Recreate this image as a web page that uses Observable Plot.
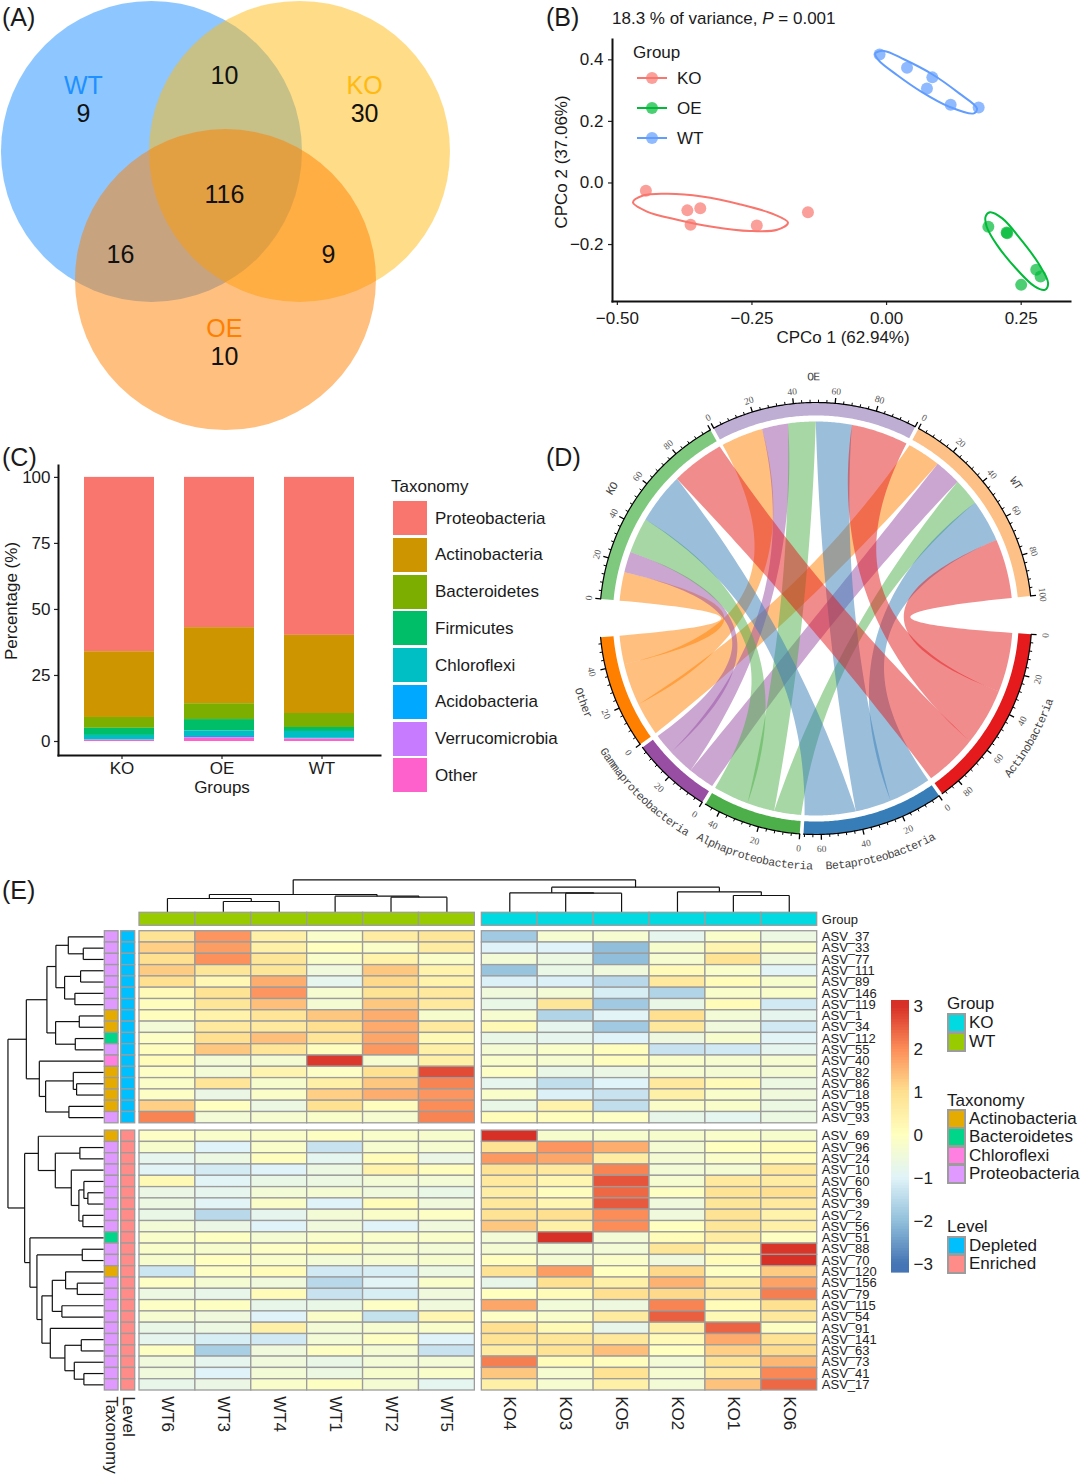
<!DOCTYPE html>
<html><head><meta charset="utf-8">
<script src="https://cdn.jsdelivr.net/npm/d3@7"></script>
<script src="https://cdn.jsdelivr.net/npm/@observablehq/plot@0.6"></script>
<style>
html,body{margin:0;padding:0;background:#fff}
#page{position:relative;width:1080px;height:1475px;overflow:hidden;font-family:"Liberation Sans",Arial,sans-serif;color:#1a1a1a}
#page svg{position:absolute;overflow:visible}
.t{position:absolute;white-space:pre;line-height:1}
.b{position:absolute;box-sizing:border-box}
</style></head><body><div id="page"></div>
<script>
// ---------- Panel A: Venn ----------
const vennSets=[{n:"WT",cx:0,cy:0,c:"#1E90FF"},{n:"KO",cx:1,cy:0,c:"#FFB90F"},{n:"OE",cx:.5,cy:.866,c:"#FF7F00"}];
const vennLabels=[["WT",-.46,-.44,"#1E90FF"],["9",-.46,-.25,"#111"],["KO",1.44,-.44,"#FFB90F"],["30",1.44,-.25,"#111"],
 ["10",.493,-.507,"#111"],["116",.493,.297,"#111"],["16",-.21,.703,"#111"],["9",1.196,.703,"#111"],["OE",.493,1.203,"#FF7F00"],["10",.493,1.392,"#111"]];
// ---------- Panel B: PCoA ----------
const pcoaKO=[[-.447,-.025],[-.370,-.089],[-.346,-.082],[-.364,-.136],[-.241,-.138],[-.146,-.095]];
const pcoaOE=[[.189,-.142],[.223,-.161],[.224,-.163],[.278,-.282],[.286,-.304],[.250,-.331]];
const pcoaWT=[[-.013,.417],[.038,.374],[.085,.343],[.075,.307],[.119,.254],[.171,.245]];
const ellipseKO=[[-.471,-.063],[-.451,-.040],[-.406,-.035],[-.343,-.044],[-.273,-.069],[-.209,-.102],[-.183,-.129],[-.203,-.152],[-.254,-.156],[-.324,-.142],[-.387,-.120],[-.445,-.093]];
const ellipseOE=[[.184,-.109],[.192,-.095],[.215,-.115],[.250,-.185],[.282,-.261],[.300,-.325],[.294,-.347],[.275,-.336],[.240,-.277],[.205,-.201],[.186,-.142]];
const ellipseWT=[[-.021,.421],[-.005,.429],[.033,.401],[.084,.354],[.135,.291],[.168,.242],[.162,.226],[.116,.248],[.065,.296],[.020,.350],[-.015,.399]];
const groupColors={KO:"#F8766D",OE:"#00BA38",WT:"#619CFF"};
// ---------- Panel C: stacked bars ----------
const barGroups=["KO","OE","WT"];
const taxa=["Proteobacteria","Actinobacteria","Bacteroidetes","Firmicutes","Chloroflexi","Acidobacteria","Verrucomicrobia","Other"];
const taxaColors=["#F8766D","#CD9600","#7CAE00","#00BE67","#00BFC4","#00A9FF","#C77CFF","#FF61CC"];
const proteobacteria=[66,56.9,59.8],actinobacteria=[24.9,28.8,29.6],bacteroidetes=[4.1,6,5.3],firmicutes=[2.7,4.3,1.5],
 chloroflexi=[1.7,2.1,2.6],acidobacteria=[.1,.4,.2],verrucomicrobia=[0,.1,.1],otherTaxa=[.5,1.4,.9];
const barSeries=[proteobacteria,actinobacteria,bacteroidetes,firmicutes,chloroflexi,acidobacteria,verrucomicrobia,otherTaxa];
// ---------- Panel D: chord ----------
const chordGroups=["KO","OE","WT"];
const chordGroupColors=["#7FC97F","#BEAED4","#FDC086"];
const chordTaxa=["Actinobacteria","Betaproteobacteria","Alphaproteobacteria","Gammaproteobacteria","Other"];
const chordTaxaColors=["#E41A1C","#377EB8","#4DAF4A","#984EA3","#FF7F00"];
const chordKO=[28.1,27,18.8,11,15.1],chordOE=[30.3,19,14.5,13.9,22.3],chordWT=[31.5,22.5,14.3,14,17.7];
const chordLabelAngles={KO:302.6,OE:-.5,WT:56,Actinobacteria:119.2,Betaproteobacteria:164.5,Alphaproteobacteria:194.6,Gammaproteobacteria:224.6,Other:250};
// ---------- Panel E: heatmap ----------
const heatColumns=["WT6","WT3","WT4","WT1","WT2","WT5","KO4","KO3","KO5","KO2","KO1","KO6"];
const heatRowsTop=["ASV_37","ASV_33","ASV_77","ASV_111","ASV_89","ASV_146","ASV_119","ASV_1","ASV_34","ASV_112","ASV_55","ASV_40","ASV_82","ASV_86","ASV_18","ASV_95","ASV_93"];
const heatRowsBottom=["ASV_69","ASV_96","ASV_24","ASV_10","ASV_60","ASV_6","ASV_39","ASV_2","ASV_56","ASV_51","ASV_88","ASV_70","ASV_120","ASV_156","ASV_79","ASV_115","ASV_54","ASV_91","ASV_141","ASV_63","ASV_73","ASV_41","ASV_17"];
const heatTop=[
[.9,1.9,.5,-.2,.6,.8,-1.8,-.3,-.3,-.8,-.2,-.6],
[1.2,1.8,.5,0,-.15,.6,-1,-1,-2,-.25,.35,-.2],
[1,1.95,.8,-.2,.4,-.15,-.4,-.6,-2,-.3,.9,-.5],
[1.25,.8,.8,-.5,1.3,.4,-1.9,-.7,-.5,.15,-.2,-.95],
[1,.25,1.6,-.8,1.1,.4,-1.05,-1.05,-1.5,.7,.1,-.25],
[.15,.9,1.9,-.3,.9,.7,-.5,-.4,-1.1,-1.6,-.2,-.2],
[.05,.8,1.4,-.35,1.3,.7,-.7,.8,-1.8,-.7,.1,-1.2],
[.05,.4,.85,1.3,1.6,-.25,-.3,-1.6,-.95,1,-.4,-.8],
[-.4,.7,.7,1,1.65,.7,.2,-.8,-1.8,.75,-.5,-1.2],
[-.1,1,1.4,.85,1.7,.2,-.7,-.8,-1,-.55,-.25,-.95],
[.05,1.3,.85,.05,1.85,.5,-.35,-.2,.05,-1.3,-1.2,-.8],
[.1,-.4,-.35,2.9,-.3,.5,-.2,-.3,.05,-.2,-.3,-.3],
[-.1,-.4,.35,-.1,.95,2.7,-.1,-.7,-.65,-.3,-.35,-.35],
[-.15,.85,-.25,.5,1.3,2.1,-.8,-1.4,-1,.7,.15,-.6],
[-.1,-.65,-.15,1.2,1.6,1.9,-.2,-1.05,-1.3,.5,-.2,-.5],
[1.2,0,-.6,.95,.05,2,-.7,.4,-1.4,-.15,-.2,-.6],
[2.1,-.4,-.3,-.2,-.3,2.1,.1,.05,-.1,-.75,-.85,-.6]];
const heatBottom=[
[-.1,-.2,-.15,-.05,-.2,-.25,3,-.25,-.25,-.25,-.2,-.25],
[-.25,-1,-.2,-1.3,-.3,-.3,.9,1.9,1.6,-.35,0,.1],
[-.8,-.6,.05,-.85,.1,-.65,1.85,1.7,.6,-.35,-.15,.1],
[-.95,-1.15,-1,-.6,.4,.05,.9,.7,2.1,-.4,-.35,.75],
[.2,-.95,-.7,-.6,-.4,-.4,.7,.3,2.6,-.3,.7,.6],
[-.65,-.8,-.4,-.35,-.5,-.7,.55,.05,2.4,-.05,.9,1],
[-.6,-.95,-.15,-1,.1,-.5,.75,.3,2.55,-.5,.8,.7],
[-.7,-1.5,-.8,-.4,-.15,-.1,.9,1,2,-.5,.9,.4],
[-.4,-.65,-1,-.5,-1,-.5,1.3,.5,2,0,.8,.5],
[-.2,-.05,-.35,-.2,-.2,-.2,-.4,3,-.4,.1,.6,-.05],
[-.2,-.25,-.1,.05,-.3,-.4,-.35,-.45,-.4,.8,.2,2.95],
[-.25,0,-.2,-.4,-.3,-.25,.03,-.35,-.15,-.5,.1,3],
[-1.25,-.1,.1,-1.2,-1.1,-.6,.9,1.8,0,1.1,-.05,1.25],
[-.1,-.35,-.5,-1.5,-.95,-.2,-.75,.95,.5,1.55,.6,1.75],
[-.6,-.75,.1,-1.3,-1.1,-.5,0,.1,1,1.1,.7,2.15],
[-.1,-.05,-.75,-.7,-.1,-.5,1.7,-.45,-.55,2.1,.1,.95],
[-.3,-.5,-1,-.15,-1.35,.3,-.1,-.2,.65,2.5,.2,.75],
[-.7,-.6,.5,-.4,-.3,-.2,1,.2,-.75,.5,2.45,-.05],
[-.8,-1.1,-1.2,-.4,-.05,-1,.9,.8,.75,.15,1.65,.9],
[-.05,-1.7,-.5,-.05,-.35,-1.3,.6,.9,1.4,0,1.2,1.05],
[-.5,-.8,-.5,-.7,-.4,-.4,2.15,.1,.05,-.4,.9,1.5],
[-.5,-1,-.4,-.6,-.25,-.2,1.3,-.3,.9,-.3,.7,2.05],
[-.75,-.65,-.2,-.05,-.35,-.85,.5,-.3,.5,-.4,1.35,2.4]];
const rowTaxonomy="PPPPPPPAABPCAAAAP"+"APPPPPPPPBPPAPPPPPPPPPP";
const annoColors={A:"#E6AB00",B:"#00D68A",C:"#FF80E0",P:"#DF99FF"};
const levelColors={Depleted:"#00BFFF",Enriched:"#FF8C88"};
const heatGroupColors={KO:"#00DAE0",WT:"#99CC00"};
const heatDomain=[-3,-2,-1,0,1,2,3],heatRange=["#4575B4","#91BFDB","#E0F3F8","#FFFFBF","#FEE090","#FC8D59","#D73027"];
// merge trees: [merge height, child, child]; a number is a leaf index
const rowTreeTop=[77.3,[56.7,[47.7,[35.3,0,[20.3,1,2]],[39,[23,3,4],[28.7,5,6]]],[48,[24.3,7,8],[28.3,9,10]]],
 [64.3,11,[58,[30.3,12,[27,13,14]],[34.7,15,16]]]];
const rowTreeBottom=[79,[65.3,17,[48.3,[23.7,18,19],[32.3,20,[24.7,[19.7,21,[15.7,22,23]],[20.7,24,25]]]]],
 [73.7,26,[66.7,[21.3,27,28],[61.7,[51.3,[38,29,[26.3,30,31]],[41.7,32,33]],[53.3,34,[38.7,[22.3,35,36],[29.3,37,[19.7,38,39]]]]]]]];
const rowTree=[95.7,rowTreeTop,rowTreeBottom];
const colTree=[32,[17.3,[13.3,0,[10.3,1,2]],[15.6,3,[14.6,4,5]]],[24.6,[19,6,[18.6,7,8]],[20,9,[16.3,10,11]]]];

// ---------- helpers ----------
const page=document.getElementById("page");
const FONT='"Liberation Sans",Arial,sans-serif';
function place(svg,left,top){svg.style.left=left+"px";svg.style.top=top+"px";page.appendChild(svg);}
function T(s,x,y,o={}){const d=document.createElement("div");d.className="t";d.style.left=x+"px";d.style.top=y+"px";
 d.style.fontSize=(o.size||17)+"px";if(o.color)d.style.color=o.color;
 const ax=o.anchor==="middle"?"-50%":o.anchor==="end"?"-100%":"0";
 d.style.transform=`translate(${ax},-50%)`+(o.rot?` rotate(${o.rot}deg)`:"");
 if(o.html)d.innerHTML=s;else d.textContent=s;page.appendChild(d);}
function B(x,y,w,h,c,o={}){const d=document.createElement("div");d.className="b";Object.assign(d.style,{left:x+"px",top:y+"px",width:w+"px",height:h+"px",background:c});
 if(o.border)d.style.border=o.border;if(o.radius)d.style.borderRadius=o.radius;if(o.opacity)d.style.opacity=o.opacity;page.appendChild(d);}
const minus=f=>d=>f(d).replace("-","\u2212");
const base={style:{background:"transparent",fontFamily:FONT,overflow:"visible",color:"#1a1a1a"}};

// ---------- A ----------
place(Plot.plot({...base,width:452,height:432,margin:0,
 x:{domain:[-1.02,2.034],range:[0,452],axis:null},y:{domain:[-1.02,1.899],range:[0,432],axis:null},
 marks:[
  Plot.dot(vennSets,{x:"cx",y:"cy",r:150.5,fill:d=>d.c,fillOpacity:.5,stroke:"none"}),
  Plot.text(vennLabels,{x:d=>d[1],y:d=>d[2],text:d=>d[0],fill:d=>d[3],fontSize:25,lineAnchor:"middle"})
 ],color:{type:"identity"}}),0,0);

// ---------- B ----------
const tag=(rows,g)=>rows.map(([x,y])=>({x,y,g}));
const pcoaPts=[...tag(pcoaKO,"KO"),...tag(pcoaOE,"OE"),...tag(pcoaWT,"WT")];
const ellipsePts=[...tag(ellipseKO,"KO"),...tag(ellipseOE,"OE"),...tag(ellipseWT,"WT")];
place(Plot.plot({...base,width:540,height:350,marginLeft:72,marginRight:10,marginTop:39,marginBottom:49,
 x:{domain:[-.509,.3416]},y:{domain:[-.385,.466]},
 color:{domain:Object.keys(groupColors),range:Object.values(groupColors)},
 marks:[
  Plot.axisX({ticks:[-.5,-.25,0,.25],tickFormat:minus(d3.format(".2f")),tickSize:4,tickPadding:6,fontSize:17,label:null,stroke:"#222",strokeWidth:1.2}),
  Plot.axisY({ticks:[-.2,0,.2,.4],tickFormat:minus(d3.format(".1f")),tickSize:4,tickPadding:5,fontSize:17,label:null,stroke:"#222",strokeWidth:1.2}),
  Plot.frame({anchor:"left",stroke:"#111",strokeWidth:2}),Plot.frame({anchor:"bottom",stroke:"#111",strokeWidth:2}),
  Plot.line(ellipsePts,{x:"x",y:"y",z:"g",stroke:"g",strokeWidth:2,curve:"catmull-rom-closed"}),
  Plot.dot(pcoaPts,{x:"x",y:"y",r:6,fill:"g",fillOpacity:.7,stroke:"none"})
 ]}),540,0);
T("(B)",546,17,{size:25});
T('18.3 % of variance, <i>P</i> = 0.001',612,18,{html:true});
T("CPCo 2 (37.06%)",561,162,{anchor:"middle",rot:-90});
T("CPCo 1 (62.94%)",843,337,{anchor:"middle"});
T("Group",633,52);
Object.entries(groupColors).forEach(([g,c],i)=>{const y=78+30*i;
 B(637,y-1,30,2,c);B(646,y-6,12,12,c,{radius:"50%",opacity:.7});T(g,677,y);});

// ---------- C ----------
const barRows=taxa.flatMap((t,i)=>barGroups.map((g,j)=>({g,t,v:barSeries[i][j]})));
place(Plot.plot({...base,width:385,height:370,marginLeft:58,marginRight:5,marginTop:25,marginBottom:55,
 x:{type:"band",domain:barGroups,range:[83,354.3],paddingInner:.3,paddingOuter:0},
 y:{domain:[104.5,-5.3],range:[25,315]},
 color:{domain:taxa,range:taxaColors},
 marks:[
  Plot.barY(barRows,{x:"g",y:"v",fill:"t",order:[...taxa].reverse()}),
  Plot.axisY({ticks:[0,25,50,75,100],tickSize:4,tickPadding:4,fontSize:17,label:null,stroke:"#222",strokeWidth:1.2}),
  Plot.axisX({tickSize:4,tickPadding:2,fontSize:17,label:null,dx:2.5,stroke:"#222",strokeWidth:1.2}),
  Plot.frame({anchor:"left",stroke:"#111",strokeWidth:2}),Plot.frame({anchor:"bottom",stroke:"#111",strokeWidth:2})
 ]}),0,440);
T("(C)",2,457,{size:25});
T("Percentage (%)",11,601,{anchor:"middle",rot:-90});
T("Groups",222,787,{anchor:"middle"});
T("Taxonomy",391,486);
taxa.forEach((t,i)=>{const y=518+36.75*i;B(393,y-17,34,34,taxaColors[i]);T(t,435,y-.5);});

// ---------- D ----------
const pt=(deg,r)=>{const a=deg*Math.PI/180;return {x:r*Math.sin(a),y:-r*Math.cos(a)};};
const DEG=.556,GAP=1,BIG=10.2,R_IN=.94,R_RIB=.912,R_TICK=1.055;
const chordMatrix=[chordKO,chordOE,chordWT];
const sum=a=>a.reduce((p,c)=>p+c,0);
const sectors=[];let cur=275.2;
chordGroups.forEach((n,i)=>{const u=sum(chordMatrix[i]);sectors.push({n,units:u,a0:cur,a1:cur+u*DEG,c:chordGroupColors[i],top:true,showEnd:n==="WT"});cur+=u*DEG+(i<2?GAP:BIG);});
chordTaxa.forEach((n,j)=>{const u=sum(chordMatrix.map(r=>r[j]));sectors.push({n,units:u,a0:cur,a1:cur+u*DEG,c:chordTaxaColors[j],top:false});cur+=u*DEG+GAP;});
const ribbonPts=[],trackPts=[],arcPts=[],tickRows=[],tickLabels=[],charRows=[];
const arc=(a,b,r)=>{const n=Math.max(2,Math.ceil(Math.abs(b-a))*2),o=[];for(let i=0;i<=n;i++)o.push(pt(a+(b-a)*i/n,r));return o;};
const apexOf=d3.scaleLinear().domain([0,45,85,110,130,151,168,180]).range([.49,.447,.368,.307,.25,.19,.067,0]);
const bez=(a,b,r)=>{let d=((b-a)%360+360)%360,m=a+d/2,minor=d;if(d>180){minor=360-d;m+=180;}
 const ch=Math.cos(minor/2*Math.PI/180),apex=r*apexOf(minor),c=pt(m,2*apex-r*ch),p=pt(a,r),q=pt(b,r),o=[];
 for(let i=1;i<50;i++){const t=i/50,u=1-t;o.push({x:u*u*p.x+2*u*t*c.x+t*t*q.x,y:u*u*p.y+2*u*t*c.y+t*t*q.y});}return o;};
const srcCur=sectors.slice(0,3).map(s=>s.a0),dstCur=sectors.slice(3).map(s=>s.a0);
const links=[];
[4,3,2,1,0].forEach(j=>chordGroups.forEach((g,i)=>{const v=chordMatrix[i][j];links.push({i,j,a0:srcCur[i],a1:srcCur[i]+v*DEG});srcCur[i]+=v*DEG;}));
[2,1,0].forEach(i=>chordTaxa.forEach((t,j)=>{const v=chordMatrix[i][j],l=links.find(k=>k.i===i&&k.j===j);l.b0=dstCur[j];l.b1=dstCur[j]+v*DEG;dstCur[j]+=v*DEG;}));
links.forEach((l,id)=>{[...arc(l.a0,l.a1,R_RIB),...bez(l.a1,l.b0,R_RIB),...arc(l.b0,l.b1,R_RIB),...bez(l.b1,l.a0,R_RIB)]
 .forEach(p=>ribbonPts.push({...p,id,c:chordTaxaColors[l.j]}));});
const norm=a=>{a=((a%360)+360)%360;return a>180?a-360:a;};
sectors.forEach(s=>{
 [...arc(s.a0,s.a1,1),...arc(s.a1,s.a0,R_IN)].forEach(p=>trackPts.push({...p,n:s.n,c:s.c}));
 arc(s.a0,s.a1,1).forEach(p=>arcPts.push({...p,n:s.n}));
 for(let v=0;v<=s.units+.01;v+=4){const a=s.a0+v*DEG,major=v%20===0,p=pt(a,1),q=pt(a,major?1.025:1.013);
  tickRows.push({x1:p.x,y1:p.y,x2:q.x,y2:q.y,w:major?1.3:1});
  if(major&&(v<100||s.showEnd)){const l=pt(a,R_TICK+(s.top?0:.012));tickLabels.push({...l,v,rot:s.top?norm(a):norm(a-180)});}}
 const mid=chordLabelAngles[s.n],chars=[...s.n],step=1.46,r=s.top?1.12:(s.n==="Gammaproteobacteria"?1.155:1.145),dir=s.top?1:-1;
 chars.forEach((ch,i)=>{const a=mid+dir*(i-(chars.length-1)/2)*step;charRows.push({...pt(a,r),ch,rot:s.top?norm(a):norm(a-180)});});
});
const SERIF='"Liberation Serif","DejaVu Serif",serif',MONO='"Liberation Mono","DejaVu Sans Mono",monospace';
place(Plot.plot({...base,width:540,height:520,margin:0,
 x:{domain:[-1.2745,1.2255],range:[0,540],axis:null},y:{domain:[-1.1944,1.213],range:[0,520],axis:null},color:{type:"identity"},
 marks:[
  Plot.line(ribbonPts,{x:"x",y:"y",z:"id",fill:"c",fillOpacity:.5,stroke:"none"}),
  Plot.line(trackPts,{x:"x",y:"y",z:"n",fill:"c",stroke:"none"}),
  Plot.line(arcPts,{x:"x",y:"y",z:"n",stroke:"#000",strokeWidth:1.2}),
  Plot.link(tickRows,{x1:"x1",y1:"y1",x2:"x2",y2:"y2",stroke:"#000",strokeWidth:"w",bend:false}),
  Plot.text(tickLabels,{x:"x",y:"y",text:"v",rotate:"rot",fontSize:9.5,fontFamily:SERIF,fill:"#555",lineAnchor:"middle"}),
  Plot.text(charRows,{x:"x",y:"y",text:"ch",rotate:"rot",fontSize:11.5,fontFamily:MONO,fill:"#444",lineAnchor:"middle"})
 ]}),540,360);
T("(D)",546,457,{size:25});

// ---------- E ----------
const COLGAP=.125,ROWGAP=.646,X0=-.643,XK=1/55.95,Y0=-1.717,YK=1/11.3;
const colX=i=>i<6?i:i+COLGAP;
const rowY=i=>i<17?i:i+ROWGAP;
const rowNames=[...heatRowsTop,...heatRowsBottom],rowVals=[...heatTop,...heatBottom];
const cells=rowVals.flatMap((r,i)=>r.map((v,j)=>({x1:colX(j),x2:colX(j)+1,y1:rowY(i),y2:rowY(i)+1,v})));
const groupBar=heatColumns.map((c,j)=>({x1:colX(j),x2:colX(j)+1,c:c.startsWith("WT")?heatGroupColors.WT:heatGroupColors.KO}));
const annoTax=rowNames.map((n,i)=>({y1:rowY(i),y2:rowY(i)+1,c:annoColors[rowTaxonomy[i]]}));
const annoLev=rowNames.map((n,i)=>({y1:rowY(i),y2:rowY(i)+1,c:i<17?levelColors.Depleted:levelColors.Enriched}));
function treeSegs(node,leafPos,out){
 if(typeof node==="number")return {h:0,p:leafPos(node)};
 const a=treeSegs(node[1],leafPos,out),b=treeSegs(node[2],leafPos,out),h=node[0];
 out.push({h1:h,p1:a.p,h2:a.h,p2:a.p},{h1:h,p1:b.p,h2:b.h,p2:b.p},{h1:h,p1:a.p,h2:h,p2:b.p});
 return {h,p:(a.p+b.p)/2};}
const rowSegs=[],colSegs=[];
treeSegs(rowTree,i=>rowY(i)+.5,rowSegs);treeSegs(colTree,j=>colX(j)+.5,colSegs);
const GREY="#9c9c9c",SW=1.3;
place(Plot.plot({...base,width:1080,height:600,marginLeft:139,marginRight:263.3,marginTop:55.7,marginBottom:85,
 x:{domain:[0,12+COLGAP],range:[139,816.7],axis:null},y:{domain:[0,40+ROWGAP],range:[55.7,515],axis:null},
 color:{type:"linear",domain:heatDomain,range:heatRange,interpolate:"rgb"},
 marks:[
  Plot.rect(cells,{x1:"x1",x2:"x2",y1:"y1",y2:"y2",fill:"v",stroke:GREY,strokeWidth:SW}),
  Plot.rect(groupBar,{x1:"x1",x2:"x2",y1:()=>-1.628,y2:()=>-.478,fill:{value:"c",scale:null},stroke:GREY,strokeWidth:SW}),
  Plot.rect(annoTax,{x1:()=>-.62,x2:()=>-.375,y1:"y1",y2:"y2",fill:{value:"c",scale:null},stroke:GREY,strokeWidth:SW}),
  Plot.rect(annoLev,{x1:()=>-.327,x2:()=>-.077,y1:"y1",y2:"y2",fill:{value:"c",scale:null},stroke:GREY,strokeWidth:SW}),
  Plot.link(rowSegs,{x1:d=>X0-d.h1*XK,y1:"p1",x2:d=>X0-d.h2*XK,y2:"p2",stroke:"#111",strokeWidth:1.2,bend:false}),
  Plot.link(colSegs,{x1:"p1",y1:d=>Y0-d.h1*YK,x2:"p2",y2:d=>Y0-d.h2*YK,stroke:"#111",strokeWidth:1.2,bend:false}),
  Plot.text(rowNames,{x:()=>12.207,y:(d,i)=>rowY(i)+.5,text:d=>d,textAnchor:"start",fontSize:13,lineAnchor:"middle",fill:"#222"}),
  Plot.text(heatColumns,{x:(d,j)=>colX(j)+.5,y:()=>40.646+.5,text:d=>d,rotate:90,textAnchor:"start",lineAnchor:"middle",fontSize:17,fill:"#222"}),
  Plot.text(["Taxonomy"],{x:()=>-.4975,y:()=>40.646+.5,text:d=>d,rotate:90,textAnchor:"start",lineAnchor:"middle",fontSize:17,fill:"#222"}),
  Plot.text(["Level"],{x:()=>-.202,y:()=>40.646+.5,text:d=>d,rotate:90,textAnchor:"start",lineAnchor:"middle",fontSize:17,fill:"#222"}),
  Plot.text(["Group"],{x:()=>12.207,y:()=>-1.05,text:d=>d,textAnchor:"start",fontSize:13,lineAnchor:"middle",fill:"#222"})
 ]}),0,875);
T("(E)",2,890,{size:25});
// colour bar
const barSteps=d3.range(-3.2,3.14,.0634);
place(Plot.plot({...base,width:60,height:295,marginLeft:11,marginRight:31,marginTop:10,marginBottom:10,
 y:{domain:[3,-3],range:[16,274]},
 color:{type:"linear",domain:heatDomain,range:heatRange,interpolate:"rgb",clamp:true},
 marks:[
  Plot.rect(barSteps,{y1:d=>d,y2:d=>Math.min(d+.09,3.14),fill:d=>d+.0317}),
  Plot.axisY({anchor:"right",ticks:[-3,-2,-1,0,1,2,3],tickFormat:minus(d3.format("d")),tickSize:0,tickPadding:4,fontSize:17,label:null,fill:"#222"})
 ]}),880,990);
// side legends
const swatchBorder="2px solid "+GREY;
T("Group",947,1003);
Object.entries(heatGroupColors).forEach(([n,c],i)=>{const y=1013+19*i;B(946.5,y,19.5,20,c,{border:swatchBorder});T(n,969,y+8.5);});
T("Taxonomy",947,1100);
[["Actinobacteria","A"],["Bacteroidetes","B"],["Chloroflexi","C"],["Proteobacteria","P"]].forEach(([n,k],i)=>{const y=1109+18.4*i;
 B(946.5,y,19.5,19.5,annoColors[k],{border:swatchBorder});T(n,969,y+9);});
T("Level",947,1226);
Object.entries(levelColors).forEach(([n,c],i)=>{const y=1235.5+18.5*i;B(946.5,y,19.5,19.5,c,{border:swatchBorder});T(n,969,y+9);});
T("(A)",2,17,{size:25});
</script></body></html>
